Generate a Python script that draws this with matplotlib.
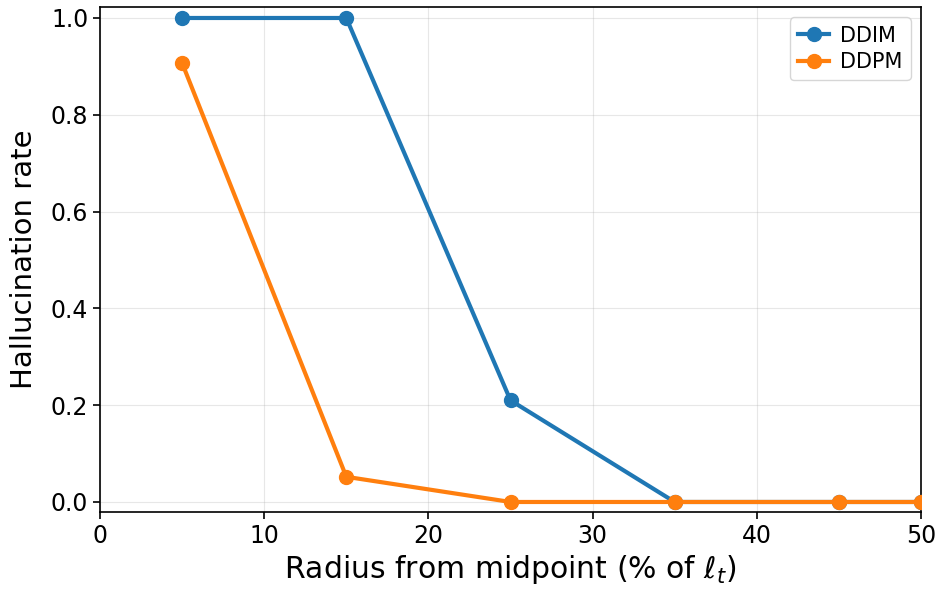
import matplotlib
matplotlib.use("Agg")
import matplotlib.pyplot as plt

radius = [5, 15, 25, 35, 45, 50]
ddim = [1.0, 1.0, 0.21, 0.0, 0.0, 0.0]
ddpm = [0.907, 0.052, 0.0, 0.0, 0.0, 0.0]

fig = plt.figure(figsize=(9.4, 5.92), dpi=100)
ax = fig.add_axes([100/940, 80/592, 821/940, 505/592])
ax.plot(radius, ddim, marker='o', color='#1f77b4', lw=3, ms=10, label='DDIM', zorder=3)
ax.plot(radius, ddpm, marker='o', color='#ff7f0e', lw=3, ms=10, label='DDPM', zorder=3)
ax.set_xlim(0, 50)
ax.set_ylim(-0.0207, 1.0227)
ax.set_xticks([0, 10, 20, 30, 40, 50])
ax.set_yticks([0.0, 0.2, 0.4, 0.6, 0.8, 1.0])
ax.grid(True, alpha=0.3)
ax.tick_params(labelsize=17, width=1.2, length=5)
for s in ax.spines.values():
    s.set_linewidth(1.2)
ax.set_xlabel(r'Radius from midpoint (% of $\ell_t$)', fontsize=21.5, labelpad=4)
ax.set_ylabel('Hallucination rate', fontsize=21, labelpad=9)
ax.legend(loc='upper right', fontsize=15, handlelength=1.5, handletextpad=0.5,
          borderpad=0.4, labelspacing=0.3, borderaxespad=0.5)
fig.savefig('out.png', dpi=100)
